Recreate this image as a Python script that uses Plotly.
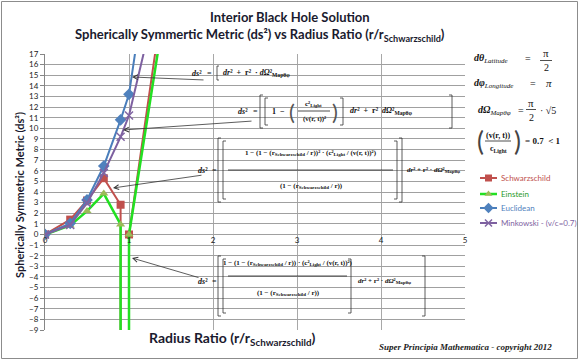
import plotly.graph_objects as go

# ---------------- data ----------------
radius_ratio = [0, 0.3, 0.5, 0.7, 0.9, 1.0, 1.5]
# Schwarzschild & Einstein drop to -infinity at r/rs = 0.9 and come back from -infinity at 1.0
radius_ratio_singular = [0, 0.3, 0.5, 0.7, 0.9, 0.9, 1.0, 1.0, 1.5]
schwarzschild = [0, 1.4, 3.2, 5.3, 2.8, -1000, -1000, 0, 27.4]
einstein = [0, 0.85, 2.2, 3.85, 0.95, -1000, -1000, 0, 25.0]
euclidean = [0, 1.05, 3.25, 6.45, 10.8, 13.2, 40.0]
minkowski = [0, 0.9, 2.95, 5.8, 9.2, 11.2, 28.0]

series_names = ["Schwarzschild", "Einstein", "Euclidean", "Minkowski - (v/c=0.7)"]
x_ticks = [0, 1, 2, 3, 4, 5]
y_ticks = list(range(-9, 18))

# ---------------- layout helpers ----------------
W, H = 580, 361
L, R, T, B = 45, 0, 54, 31
PW, PH = W - L - R, H - T - B
PLOT_RIGHT = 465


def px(x):
    return (x - L) / PW


def py(y):
    return (H - B - y) / PH


SERIF = "Liberation Serif"
SANS = "Lato"
annotations = []
shapes = []


def txt(x, y, s, size=8, anchor="left", family=SERIF, color="#111", vanchor="middle", angle=0):
    annotations.append(dict(xref="paper", yref="paper", x=px(x), y=py(y), text=s,
                            showarrow=False, xanchor=anchor, yanchor=vanchor, textangle=angle,
                            font=dict(family=family, size=size, color=color)))


def hline(x0, x1, y, w=0.8, color="#222"):
    shapes.append(dict(type="line", xref="paper", yref="paper", x0=px(x0), x1=px(x1),
                       y0=py(y), y1=py(y), line=dict(color=color, width=w)))


def bracket(x, y0, y1, side="left", w=3):
    d = w if side == "left" else -w
    path = "M {a},{b} L {c},{b} L {c},{e} L {a},{e}".format(
        a=px(x + d), b=py(y0), c=px(x), e=py(y1))
    shapes.append(dict(type="path", xref="paper", yref="paper", path=path,
                       line=dict(color="#333", width=0.8)))


def arrow(hx, hy, tx, ty):
    annotations.append(dict(xref="paper", yref="paper", x=px(hx), y=py(hy), ax=tx - hx, ay=ty - hy,
                            axref="pixel", ayref="pixel", text="", showarrow=True,
                            arrowhead=5, arrowsize=1.2, arrowwidth=0.8, arrowcolor="#333"))


colors = ["#c0504d", "#22e022", "#4a7ebb", "#7d60a0"]
marker_colors = ["#c0504d", "#9bbb59", "#4f81bd", "#8064a2"]
text_colors = ["#c0504d", "#2a9a2a", "#4f81bd", "#8064a2"]
symbols = ["square", "triangle-up", "diamond", "x-thin"]
widths = [2, 2.5, 2, 2]
sizes = [8, 8, 9, 8]

# ---------------- traces ----------------
fig = go.Figure()
data = [(radius_ratio_singular, schwarzschild), (radius_ratio_singular, einstein),
        (radius_ratio, euclidean), (radius_ratio, minkowski)]
for i, (xs, ys) in enumerate(data):
    fig.add_trace(go.Scatter(
        x=xs, y=ys, mode="lines+markers", name=series_names[i], showlegend=False,
        line=dict(color=colors[i], width=widths[i]),
        marker=dict(symbol=symbols[i], size=sizes[i], color=marker_colors[i],
                    line=dict(color=marker_colors[i], width=1.5 if symbols[i] == "x-thin" else 0))))

# manual legend (in a pixel-scaled helper axis on the right)
legend_rows = [178, 194, 208, 223]
for i, yrow in enumerate(legend_rows):
    fig.add_trace(go.Scatter(
        x=[480, 497], y=[yrow, yrow], xaxis="x2", yaxis="y2", mode="lines", showlegend=False,
        line=dict(color=colors[i], width=widths[i]), hoverinfo="skip"))
    fig.add_trace(go.Scatter(
        x=[488.5], y=[yrow], xaxis="x2", yaxis="y2", mode="markers", showlegend=False,
        marker=dict(symbol=symbols[i], size=sizes[i] - 1, color=marker_colors[i],
                    line=dict(color=marker_colors[i], width=1.5 if symbols[i] == "x-thin" else 0)),
        hoverinfo="skip"))
    txt(499, yrow, series_names[i], size=8, family=SANS, color=text_colors[i])

# ---------------- titles ----------------
txt(290, 17, "<b>Interior Black Hole Solution</b>", size=13, anchor="center", family=SANS, color="#1a1a2e")
txt(260, 35, "<b>Spherically Symmertic Metric (ds²) vs Radius Ratio (r/r<sub>Schwarzschild</sub>)</b>",
    size=13, anchor="center", family=SANS, color="#1a1a2e")
txt(232, 338, "<b>Radius Ratio (r/r<sub>Schwarzschild</sub>)</b>", size=14, anchor="center",
    family=SANS, color="#1a1a2e")
txt(19, 195, "<b>Spherically Symmetric Metric (ds²)</b>", size=11, anchor="center",
    family=SANS, color="#1a1a2e", angle=-90)
txt(465, 347, "<b><i>Super Principia Mathematica - copyright 2012</i></b>", size=9, anchor="center",
    family=SERIF, color="#222")

# ---------------- right-hand math panel ----------------
txt(472, 59, "<b><i>dθ</i></b><sub><i>Latitude</i></sub>", size=10)
txt(528, 59, "=", size=10, anchor="center")
txt(546, 53, "π", size=11, anchor="center")
hline(540, 552, 60.5)
txt(546, 67, "2", size=10, anchor="center")

txt(472, 83, "<b><i>dφ</i></b><sub><i>Longitude</i></sub>", size=10)
txt(533, 83, "=", size=10, anchor="center")
txt(549, 83, "<i>π</i>", size=11, anchor="center")

txt(476, 110, "<b><i>dΩ</i></b><sub><i>Mapθφ</i></sub>", size=10)
txt(521, 110, "=", size=10, anchor="center")
txt(531, 103, "π", size=11, anchor="center")
hline(526, 536, 109.5)
txt(531, 117, "2", size=10, anchor="center")
txt(538, 110, "· √5", size=10)

txt(480, 141, "(", size=26, anchor="center", family=SANS, color="#444")
txt(517, 141, ")", size=26, anchor="center", family=SANS, color="#444")
txt(498, 135, "<b>(v(r, t))</b>", size=8, anchor="center")
hline(485, 511, 141)
txt(498, 149, "<b>c<sub>Light</sub></b>", size=8, anchor="center")
txt(523, 141, "<b>= 0.7  < 1</b>", size=9)

# ---------------- equations inside the plot ----------------
# Euclidean
txt(190, 73, "<b><i>ds</i>²</b>", size=8)
txt(209, 73, "=", size=8, anchor="center")
bracket(217, 66, 80, "left", 2)
txt(221, 73, "<b><i>dr</i>²  +  r²  · <i>dΩ</i>²<sub>Mapθφ</sub></b>", size=8)
arrow(132, 77, 205, 80)

# Minkowski
txt(236, 111, "<b><i>ds</i>²</b>", size=8)
txt(255, 111, "=", size=8, anchor="center")
bracket(260, 95, 128, "left", 3)
bracket(265, 98, 125, "left", 3)
txt(270, 111, "<b>1  −</b>", size=8)
txt(292, 111, "(", size=22, anchor="center", family=SANS, color="#555")
txt(313, 104, "<b>c²<sub>Light</sub></b>", size=7, anchor="center")
hline(298, 330, 111)
txt(314, 119, "<b>(v(r, t))²</b>", size=7, anchor="center")
txt(335, 111, ")", size=22, anchor="center", family=SANS, color="#555")
bracket(343, 98, 125, "right", 3)
txt(348, 111, "<b><i>dr</i>²  +  r²  <i>dΩ</i>²<sub>Mapθφ</sub></b>", size=8)
bracket(452, 95, 128, "right", 3)
arrow(123, 130, 253, 121)

# Schwarzschild
txt(196, 170, "<b><i>ds</i>²</b>", size=8)
txt(214, 170, "=", size=8, anchor="center")
bracket(218, 138, 202, "left", 3)
bracket(223, 141, 199, "left", 3)
txt(311, 153, "<b>1 − (1 − (r<sub>Schwarzschild</sub> / r))² · (c²<sub>Light</sub> / (v(r, t))²)</b>",
    size=7, anchor="center")
hline(228, 393, 170)
txt(311, 186, "<b>(1 − (r<sub>Schwarzschild</sub> / r))</b>", size=7, anchor="center")
bracket(397, 141, 199, "right", 3)
bracket(402, 138, 202, "right", 3)
txt(405, 170, "<b><i>dr</i>² + r² · <i>dΩ</i>²<sub>Mapθφ</sub></b>", size=7)
arrow(113, 188, 203, 175)

# Einstein
txt(196, 281, "<b><i>ds</i>²</b>", size=8)
txt(214, 281, "=", size=8, anchor="center")
bracket(218, 256, 316, "left", 3)
bracket(223, 259, 313, "left", 3)
txt(288, 263, "<b>1 − (1 − (r<sub>Schwarzschild</sub> / r)) · (c²<sub>Light</sub> / (v(r, t))²)</b>",
    size=7, anchor="center")
hline(228, 347, 276)
txt(288, 293, "<b>(1 − (r<sub>Schwarzschild</sub> / r))</b>", size=7, anchor="center")
bracket(351, 259, 313, "right", 3)
txt(356, 281, "<b><i>dr</i>² + r² · <i>dΩ</i>²<sub>Mapθφ</sub></b>", size=7)
bracket(425, 256, 316, "right", 3)
arrow(132, 258, 200, 278)

# outer frame
shapes.append(dict(type="rect", xref="paper", yref="paper", x0=px(1.5), x1=px(577.5),
                   y0=py(358.5), y1=py(1.5), line=dict(color="#8c8c8c", width=1), layer="below"))

fig.update_layout(
    width=W, height=H,
    margin=dict(l=L, r=R, t=T, b=B, pad=0, autoexpand=False),
    paper_bgcolor="white", plot_bgcolor="white",
    showlegend=False,
    xaxis=dict(domain=[0, px(PLOT_RIGHT)], range=[0, 5], tickvals=x_ticks,
               ticktext=[str(v) for v in x_ticks],
               showgrid=True, gridcolor="#a8a8a8", gridwidth=1, zeroline=False,
               anchor="free", position=9 / 26, showline=False, ticks="", automargin=False,
               tickfont=dict(family=SANS, size=8, color="#222")),
    yaxis=dict(domain=[0, 1], range=[-9, 17], tickvals=y_ticks, showgrid=True, gridcolor="#a0a0a0",
               gridwidth=1, zeroline=False, showline=True, linecolor="#868686", linewidth=1,
               ticks="outside", ticklen=4, tickcolor="#868686", automargin=False,
               tickfont=dict(family=SANS, size=8, color="#222")),
    xaxis2=dict(domain=[px(PLOT_RIGHT), 1], range=[PLOT_RIGHT, W], visible=False, anchor="y2",
                fixedrange=True),
    yaxis2=dict(domain=[0, 1], range=[H - B, T], visible=False, anchor="x2", fixedrange=True),
    annotations=annotations, shapes=shapes,
)

fig.write_html("out.html", config={"displayModeBar": False},
               post_script="document.body.style.margin='0px';")
